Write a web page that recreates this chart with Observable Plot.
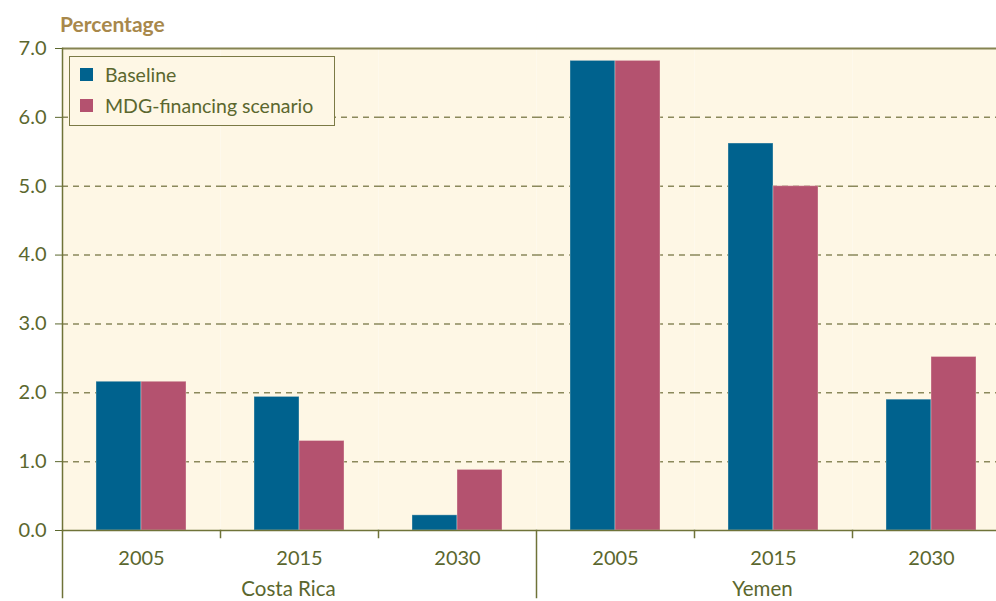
<!DOCTYPE html>
<html>
<head>
<meta charset="utf-8">
<script src="https://cdn.jsdelivr.net/npm/d3@7"></script>
<script src="https://cdn.jsdelivr.net/npm/@observablehq/plot@0.6"></script>
<style>
  html, body { margin: 0; padding: 0; background: #ffffff; overflow: hidden; }
  #wrap { position: relative; width: 996px; height: 601px; overflow: hidden; font-family: Lato, "Open Sans", sans-serif; }
  #title { position: absolute; left: 60px; top: 11px; font-size: 21px; font-weight: bold; color: #a8884b; }
  #legend { position: absolute; left: 69px; top: 56px; width: 264px; height: 68px; border: 1.5px solid #7b7a45; background: #fef7e5; box-sizing: content-box; }
  .row { position: absolute; left: 10px; display: flex; align-items: center; font-size: 19.5px; color: #5b672e; }
  .sw { width: 13px; height: 13px; margin-right: 12px; }
</style>
</head>
<body>
<div id="wrap">
  <div id="chart"></div>
  <div id="title">Percentage</div>
  <div id="legend"></div>
</div>
<script>
const countries = ["Costa Rica", "Yemen"];
const years = ["2005", "2015", "2030"];
const series = ["Baseline", "MDG-financing scenario"];
const baselineValues = [2.16, 1.94, 0.22, 6.82, 5.62, 1.90];
const mdgValues = [2.16, 1.30, 0.88, 6.82, 5.00, 2.52];
const yTicks = [0, 1, 2, 3, 4, 5, 6, 7];
const colors = ["#00628e", "#b4526f"];

const slots = [];
countries.forEach(c => years.forEach(y => slots.push({country: c, year: y, key: c + "|" + y})));
const data = [];
slots.forEach((s, i) => {
  data.push({slot: s.key, series: series[0], value: baselineValues[i]});
  data.push({slot: s.key, series: series[1], value: mdgValues[i]});
});
const slotKeys = slots.map(s => s.key);

const olive = "#5b672e";
const lineCol = "#6f7338";

const edgeMarks = slots.map((s, i) => {
  const first = s.year === years[0];
  return Plot.frame({
    anchor: "left",
    fx: () => s.key,
    stroke: lineCol,
    strokeWidth: 1.5,
    insetTop: first ? 415 : 475,
    dy: first ? 67 : 7
  });
});

const countryLabels = countries.map(c => ({slot: c + "|" + years[1], label: c}));

const chart = Plot.plot({
  width: 1011,
  height: 601,
  marginTop: 48,
  marginBottom: 71,
  marginLeft: 60,
  marginRight: 0,
  style: {fontFamily: "Lato, 'Open Sans', sans-serif", fontSize: "20px", color: olive, background: "transparent", maxWidth: "none", overflow: "hidden"},
  fx: {domain: slotKeys, padding: 0, axis: "bottom", tickSize: 0, tickPadding: 20, tickFormat: d => d.split("|")[1], label: null},
  x: {domain: series, axis: null, paddingInner: 0, paddingOuter: 0.74},
  y: {domain: [0, 7], ticks: yTicks, tickFormat: d3.format(".1f"), tickSize: 7, tickPadding: 9, label: null},
  color: {domain: series, range: colors},
  marks: [
    Plot.frame({fill: "#fef7e5", stroke: null}),
    Plot.ruleY(yTicks.filter(t => t > 0 && t < 7), {stroke: "#8b895c", strokeWidth: 1.5, strokeDasharray: "6,5"}),
    Plot.barY(data, {fx: "slot", x: "series", y: "value", fill: "series", stroke: "#fef7e5", strokeOpacity: 0.35, strokeWidth: 1}),
    Plot.ruleY([7], {stroke: "#858452", strokeWidth: 2}),
    Plot.ruleY([0], {stroke: lineCol, strokeWidth: 1.5}),
    Plot.frame({anchor: "left", fx: () => slotKeys[0], stroke: lineCol, strokeWidth: 1.5}),
    ...edgeMarks,
    Plot.text(countryLabels, {fx: "slot", text: "label", frameAnchor: "bottom", dy: 65, dx: -11, fill: olive, fontSize: 20.5})
  ]
});
document.getElementById("chart").appendChild(chart);

const legend = document.getElementById("legend");
series.forEach((s, i) => {
  const row = document.createElement("div");
  row.className = "row";
  row.style.top = (i === 0 ? 6 : 37) + "px";
  const sw = document.createElement("div");
  sw.className = "sw";
  sw.style.background = colors[i];
  const t = document.createElement("span");
  t.textContent = s;
  row.appendChild(sw);
  row.appendChild(t);
  legend.appendChild(row);
});
</script>
</body>
</html>
